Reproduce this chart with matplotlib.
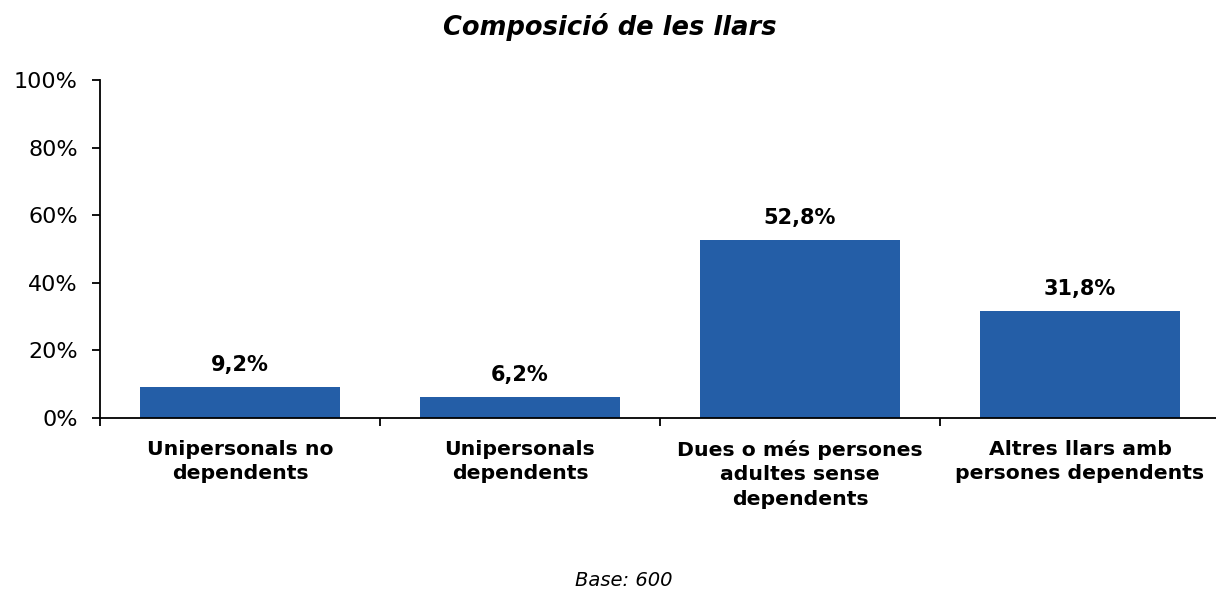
import numpy as np
import matplotlib
matplotlib.use("Agg")
import matplotlib.pyplot as plt
from matplotlib.ticker import FuncFormatter

categories = ["Unipersonals no\ndependents", "Unipersonals\ndependents",
              "Dues o més persones\nadultes sense\ndependents",
              "Altres llars amb\npersones dependents"]
values = [9.2, 6.2, 52.8, 31.8]
yticks = [0, 20, 40, 60, 80, 100]

BLUE = "#245EA7"
W, H = 1216, 590

fig = plt.figure(figsize=(W / 100, H / 100), dpi=100)
# axes spans px 100..1220 horizontally, 80..418 vertically
ax = fig.add_axes([100 / W, (H - 418) / H, 1120 / W, 338 / H])

x = np.arange(len(categories))
ax.bar(x, values, width=200 / 280, color=BLUE, zorder=2)
for xi, v in zip(x, values):
    ax.text(xi, v + 3.5, f"{v:.1f}%".replace(".", ","), ha="center", va="bottom",
            fontsize=15, fontweight="bold")

ax.set_xlim(-0.5, len(categories) - 0.5)
ax.set_ylim(0, 100)
ax.set_yticks(yticks)
ax.yaxis.set_major_formatter(FuncFormatter(lambda v, p: f"{v:.0f}%"))
ax.set_xticks(np.arange(len(categories) + 1) - 0.5)
ax.set_xticklabels([])
ax.set_xticks(x, minor=True)
ax.set_xticklabels(categories, minor=True, fontsize=14.7, fontweight="bold",
                   linespacing=1.35)
ax.tick_params(axis="x", which="minor", length=0, pad=16)
ax.tick_params(axis="x", which="major", direction="out", length=6, width=1.3)
ax.tick_params(axis="y", direction="out", length=6, width=1.3, labelsize=16, pad=10)

for s in ["top", "right"]:
    ax.spines[s].set_visible(False)
ax.spines["left"].set_linewidth(1.3)
ax.spines["bottom"].set_linewidth(1.3)

fig.text(610 / W, 1 - 27 / H, "Composició de les llars", ha="center", va="center",
         fontsize=18.5, fontweight="bold", style="italic")
fig.text(624 / W, 1 - 580 / H, "Base: 600", ha="center", va="center",
         fontsize=14, style="italic")

fig.savefig("out.png", dpi=100)
